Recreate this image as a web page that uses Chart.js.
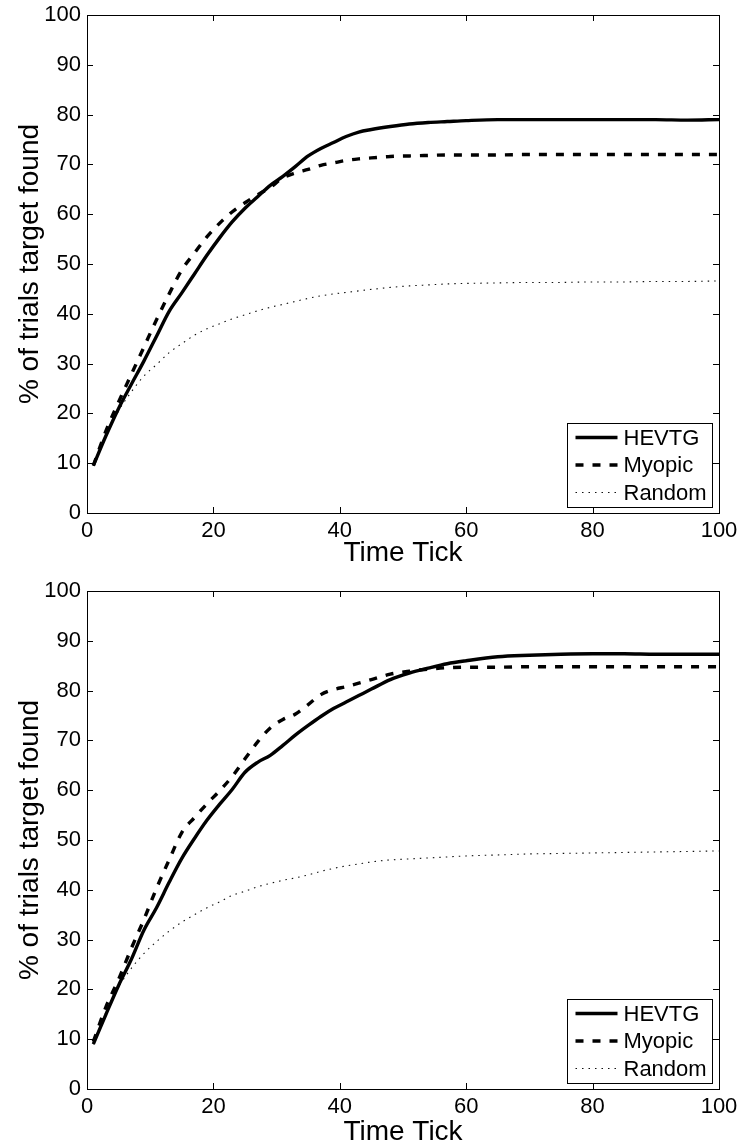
<!DOCTYPE html>
<html>
<head>
<meta charset="utf-8">
<script src="https://cdn.jsdelivr.net/npm/chart.js@4.4.1/dist/chart.umd.min.js"></script>
<style>
  html, body { margin: 0; padding: 0; background: #fff; overflow: hidden; }
  canvas { position: absolute; left: 0; }
  #topChart { top: 0; }
  #bottomChart { top: 572px; }
</style>
</head>
<body>
<canvas id="topChart" width="738" height="572"></canvas>
<canvas id="bottomChart" width="738" height="577"></canvas>
<script>
// x positions the values were read at
const timeTicks = [1, 3, 5, 7, 9, 11, 13, 15, 17, 19, 21, 23, 25, 27, 29, 31, 33, 35, 37, 39,
  41, 43, 45, 48, 51, 54, 57, 60, 65, 70, 75, 80, 85, 90, 95, 100];

// top panel
const topHevtg = [9.5, 15.5, 21, 25.8, 30.5, 35.5, 40.5, 44.2, 48, 51.8, 55.3, 58.5, 61.2, 63.5, 65.8, 67.6, 69.6, 71.7, 73.2, 74.4,
  75.6, 76.5, 77.0, 77.6, 78.1, 78.4, 78.6, 78.8, 79.0, 79.0, 79.0, 79.0, 79.0, 79.0, 78.9, 79.0];
const topMyopic = [9.5, 16.5, 22.3, 27.8, 33.3, 38.8, 44, 48.8, 52.2, 55.5, 58.2, 60.5, 62.3, 63.9, 65.4, 67.3, 68.3, 69, 69.8, 70.3,
  70.8, 71.1, 71.3, 71.6, 71.7, 71.8, 71.9, 71.9, 71.9, 72.0, 72.0, 72.0, 72.0, 72.0, 72.0, 72.0];
const topRandom = [9.5, 15.5, 20.5, 24.3, 27.5, 29.8, 32.2, 34, 35.7, 37, 38, 39, 39.8, 40.6, 41.3, 41.9, 42.5, 43.1, 43.6, 44.0,
  44.3, 44.6, 44.9, 45.3, 45.6, 45.8, 46.0, 46.1, 46.2, 46.3, 46.3, 46.4, 46.4, 46.5, 46.5, 46.6];

// bottom panel
const bottomHevtg = [9, 15, 20.8, 26, 31.9, 36.4, 41.5, 46.3, 50.3, 54, 57.2, 60.2, 63.6, 65.6, 67, 69, 71.1, 73, 74.8, 76.4,
  77.7, 79, 80.3, 82.2, 83.5, 84.5, 85.4, 86, 86.8, 87.1, 87.3, 87.4, 87.4, 87.3, 87.3, 87.3];
const bottomMyopic = [9.5, 16.5, 22, 28.2, 34, 40.3, 46, 51.5, 54.5, 57.3, 59.9, 62.8, 66.3, 69.7, 72.5, 74.2, 75.3, 77.2, 79.2, 80.2,
  80.8, 81.5, 82.2, 83.3, 83.9, 84.3, 84.6, 84.7, 84.7, 84.8, 84.8, 84.8, 84.8, 84.8, 84.8, 84.8];
const bottomRandom = [9, 15.5, 20.5, 24.2, 27.2, 29.6, 31.7, 33.5, 35, 36.4, 37.6, 38.9, 39.7, 40.6, 41.3, 41.9, 42.4, 43, 43.7, 44.3,
  44.8, 45.2, 45.6, 46, 46.2, 46.4, 46.6, 46.8, 47, 47.2, 47.3, 47.4, 47.5, 47.6, 47.7, 47.8];

const seriesNames = ['HEVTG', 'Myopic', 'Random'];

Chart.defaults.font.family = '"Liberation Sans", Arial, Helvetica, sans-serif';
Chart.defaults.font.size = 22;
Chart.defaults.color = '#000';

const toPoints = (ys) => ys.map((y, i) => ({ x: timeTicks[i], y: y }));

// matlab style box with inward ticks, and a legend in the lower right
const boxPlugin = {
  id: 'box',
  afterDraw(chart) {
    const { ctx, chartArea: a, scales } = chart;
    ctx.save();
    ctx.strokeStyle = '#000';
    ctx.lineWidth = 1;
    ctx.beginPath();
    scales.x.ticks.forEach(t => {
      const px = Math.round(scales.x.getPixelForValue(t.value)) + 0.5;
      ctx.moveTo(px, a.bottom); ctx.lineTo(px, a.bottom - 6);
      ctx.moveTo(px, a.top); ctx.lineTo(px, a.top + 6);
    });
    scales.y.ticks.forEach(t => {
      const py = Math.round(scales.y.getPixelForValue(t.value)) + 0.5;
      ctx.moveTo(a.left, py); ctx.lineTo(a.left + 6, py);
      ctx.moveTo(a.right, py); ctx.lineTo(a.right - 6, py);
    });
    ctx.stroke();
    ctx.strokeRect(Math.round(a.left) + 0.5, Math.round(a.top) + 0.5,
      Math.round(a.right - a.left), Math.round(a.bottom - a.top));

    // legend
    const w = 145, h = 84;
    const bx = Math.round(a.right - 7 - w) + 0.5;
    const by = Math.round(a.bottom - 6 - h) + 0.5;
    ctx.fillStyle = '#fff';
    ctx.fillRect(bx, by, w, h);
    ctx.strokeRect(bx, by, w, h);
    ctx.font = '22px "Liberation Sans", Arial, sans-serif';
    ctx.textBaseline = 'middle';
    ctx.textAlign = 'left';
    chart.data.datasets.forEach((ds, i) => {
      const ry = by + 14 + i * 27.5;
      ctx.save();
      ctx.strokeStyle = ds.borderColor;
      ctx.lineWidth = ds.borderWidth;
      ctx.setLineDash(ds.borderDash || []);
      ctx.beginPath();
      ctx.moveTo(bx + 8, ry);
      ctx.lineTo(bx + 50, ry);
      ctx.stroke();
      ctx.restore();
      ctx.fillStyle = '#000';
      ctx.fillText(ds.label, bx + 56, ry + 1);
    });
    ctx.restore();
  }
};

function makeChart(id, hevtg, myopic, random, padTop, xHeight, titleBottom) {
  return new Chart(document.getElementById(id), {
    type: 'line',
    data: {
      datasets: [
        { label: seriesNames[0], data: toPoints(hevtg), borderColor: '#000', borderWidth: 3.4 },
        { label: seriesNames[1], data: toPoints(myopic), borderColor: '#000', borderWidth: 3.4, borderDash: [8, 9] },
        { label: seriesNames[2], data: toPoints(random), borderColor: '#111', borderWidth: 1.1, borderDash: [1.5, 5] }
      ]
    },
    options: {
      responsive: false,
      animation: false,
      cubicInterpolationMode: 'monotone',
      elements: { point: { radius: 0 }, line: { borderCapStyle: 'butt' } },
      layout: { padding: { top: padTop, right: 19, left: 0, bottom: 0 } },
      plugins: { legend: { display: false }, tooltip: { enabled: false } },
      scales: {
        x: {
          type: 'linear', min: 0, max: 100,
          grid: { display: false, drawTicks: false },
          border: { display: false },
          ticks: { stepSize: 20, padding: 5, maxRotation: 0 },
          title: { display: true, text: 'Time Tick', font: { size: 28 }, padding: { top: 0, bottom: titleBottom } },
          afterFit(scale) {
            scale.height = xHeight;
            scale.paddingLeft = 0;
            scale.paddingRight = 0;
          }
        },
        y: {
          min: 0, max: 100,
          grid: { display: false, drawTicks: false },
          border: { display: false },
          ticks: { stepSize: 10, padding: 6 },
          title: { display: true, text: '% of trials target found', font: { size: 28 }, padding: { top: 13, bottom: 0 } },
          afterFit(scale) {
            scale.width = 87;
            scale.paddingTop = 0;
            scale.paddingBottom = 0;
          }
        }
      }
    },
    plugins: [boxPlugin]
  });
}

makeChart('topChart', topHevtg, topMyopic, topRandom, 15, 59, 2);
makeChart('bottomChart', bottomHevtg, bottomMyopic, bottomRandom, 19, 60, 0);
</script>
</body>
</html>
